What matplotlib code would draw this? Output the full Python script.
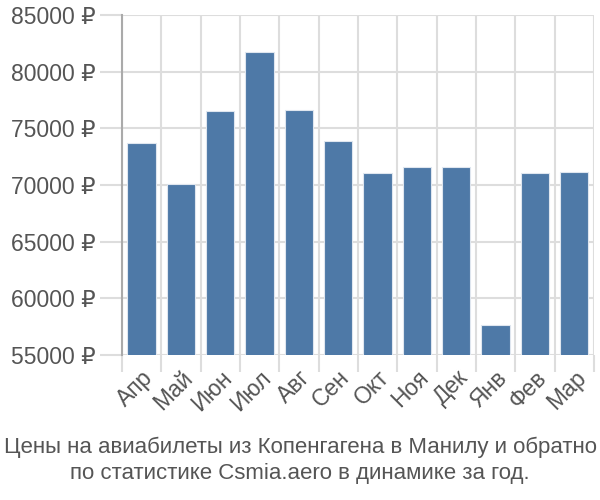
import matplotlib.pyplot as plt
from matplotlib.ticker import FuncFormatter

months = ["Апр", "Май", "Июн", "Июл", "Авг", "Сен", "Окт", "Ноя", "Дек", "Янв", "Фев", "Мар"]
prices = [73700, 70100, 76500, 81700, 76600, 73900, 71050, 71600, 71600, 57650, 71050, 71150]
yticks = [55000, 60000, 65000, 70000, 75000, 80000, 85000]

plt.rcParams['font.family'] = ['Liberation Sans', 'DejaVu Sans']

fig = plt.figure(figsize=(6, 5), dpi=100)
ax = fig.add_axes([0.203, 0.29, 0.787, 0.68])

x = list(range(len(months)))
ax.bar(x, prices, width=0.72, color='#4e79a7', edgecolor='#dfe6ef', linewidth=0.8, zorder=3)
ax.set_xlim(-0.5, len(months) - 0.5)
ax.set_ylim(55000, 85000)

ax.set_yticks(yticks)
ax.yaxis.set_major_formatter(FuncFormatter(lambda v, p: "%d ₽" % v))
# category boundaries carry the grid and ticks, centres carry the labels
ax.set_xticks([i - 0.5 for i in x] + [len(months) - 0.5])
ax.set_xticklabels([""] * (len(months) + 1))
ax.set_xticks(x, minor=True)
ax.set_xticklabels(months, minor=True, rotation=45, ha='right', va='top',
                   rotation_mode='anchor')

ax.tick_params(axis='y', length=16, width=1.5, color='#dddddd', labelsize=16.5,
               labelcolor='#555555', pad=3)
ax.tick_params(axis='x', which='major', length=12, width=1.5, color='#dddddd')
ax.tick_params(axis='x', which='minor', length=0, labelsize=16.5, labelcolor='#555555', pad=8)

ax.grid(True, which='major', color='#dddddd', linewidth=1.5, zorder=0)
for side in ['top', 'right', 'bottom']:
    ax.spines[side].set_visible(False)
ax.spines['left'].set_color('#aaaaaa')
ax.spines['left'].set_linewidth(1.5)

fig.text(0.5, 0.106, "Цены на авиабилеты из Копенгагена в Манилу и обратно", ha='center',
         va='center', fontsize=16, color='#555555')
fig.text(0.5, 0.052, "по статистике Csmia.aero в динамике за год.", ha='center',
         va='center', fontsize=16, color='#555555')

plt.savefig("out.png")
